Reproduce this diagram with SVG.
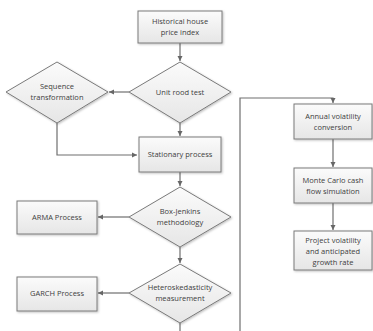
<svg xmlns="http://www.w3.org/2000/svg" width="373" height="331" viewBox="0 0 373 331">
<defs>
<linearGradient id="g" x1="0" y1="0" x2="0" y2="1">
<stop offset="0" stop-color="#fbfbfb"/>
<stop offset="1" stop-color="#e6e6e6"/>
</linearGradient>
<filter id="sh" x="-10%" y="-10%" width="130%" height="130%">
<feDropShadow dx="1" dy="1" stdDeviation="1" flood-color="#000" flood-opacity="0.25"/>
</filter>
<marker id="ah" markerWidth="6" markerHeight="6" refX="5" refY="3" orient="auto" markerUnits="userSpaceOnUse">
<path d="M0,0.5 L5,3 L0,5.5 z" fill="#666"/>
</marker>
</defs>
<style>
.n{fill:url(#g);stroke:#7a7a7a;stroke-width:1;filter:url(#sh)}
.t{font-family:"Open Sans","Liberation Sans",sans-serif;font-size:7.5px;fill:#404040;text-anchor:middle}
.c{fill:none;stroke:#6f6f6f;stroke-width:1.2}
</style>
<rect width="373" height="331" fill="#fff"/>
<g id="connectors">
<line class="c" x1="180" y1="43" x2="180" y2="61" marker-end="url(#ah)"/>
<line class="c" x1="129" y1="92" x2="109" y2="92" marker-end="url(#ah)"/>
<polyline class="c" points="57,123 57,155 137,155" marker-end="url(#ah)"/>
<line class="c" x1="180" y1="123" x2="180" y2="136" marker-end="url(#ah)"/>
<line class="c" x1="180" y1="172" x2="180" y2="186" marker-end="url(#ah)"/>
<line class="c" x1="129" y1="217" x2="98" y2="217" marker-end="url(#ah)"/>
<line class="c" x1="180" y1="247" x2="180" y2="263" marker-end="url(#ah)"/>
<line class="c" x1="129" y1="293" x2="98" y2="293" marker-end="url(#ah)"/>
<line class="c" x1="180" y1="323" x2="180" y2="331"/>
<polyline class="c" points="240,331 240,98 333,98 333,103" marker-end="url(#ah)"/>
<line class="c" x1="333" y1="139" x2="333" y2="167" marker-end="url(#ah)"/>
<line class="c" x1="333" y1="203" x2="333" y2="230" marker-end="url(#ah)"/>
</g>
<g id="historical">
<rect class="n" x="138" y="11" width="84" height="32"/>
<text class="t" x="180" y="24">Historical house</text>
<text class="t" x="180" y="35">price index</text>
</g>
<g id="unitroot">
<polygon class="n" points="180,62 231,92 180,123 129,92"/>
<text class="t" x="180" y="95">Unit rood test</text>
</g>
<g id="sequence">
<polygon class="n" points="57,62 108,92 57,123 6,92"/>
<text class="t" x="57" y="89">Sequence</text>
<text class="t" x="57" y="100">transformation</text>
</g>
<g id="stationary">
<rect class="n" x="139" y="137" width="82" height="35"/>
<text class="t" x="180" y="157">Stationary process</text>
</g>
<g id="boxjenkins">
<polygon class="n" points="180,187 231,217 180,247 129,217"/>
<text class="t" x="180" y="214">Box-Jenkins</text>
<text class="t" x="180" y="225">methodology</text>
</g>
<g id="arma">
<rect class="n" x="17" y="201" width="80" height="33"/>
<text class="t" x="57" y="220">ARMA Process</text>
</g>
<g id="hetero">
<polygon class="n" points="180,264 231,293 180,323 129,293"/>
<text class="t" x="180" y="290">Heteroskedasticity</text>
<text class="t" x="180" y="301">measurement</text>
</g>
<g id="garch">
<rect class="n" x="17" y="277" width="80" height="34"/>
<text class="t" x="57" y="296">GARCH Process</text>
</g>
<g id="annual">
<rect class="n" x="294" y="104" width="78" height="35"/>
<text class="t" x="333" y="119">Annual volatility</text>
<text class="t" x="333" y="130">conversion</text>
</g>
<g id="montecarlo">
<rect class="n" x="294" y="168" width="78" height="35"/>
<text class="t" x="333" y="183">Monte Carlo cash</text>
<text class="t" x="333" y="194">flow simulation</text>
</g>
<g id="project">
<rect class="n" x="294" y="231" width="78" height="39"/>
<text class="t" x="333" y="243">Project volatility</text>
<text class="t" x="333" y="254">and anticipated</text>
<text class="t" x="333" y="265">growth rate</text>
</g>
</svg>
